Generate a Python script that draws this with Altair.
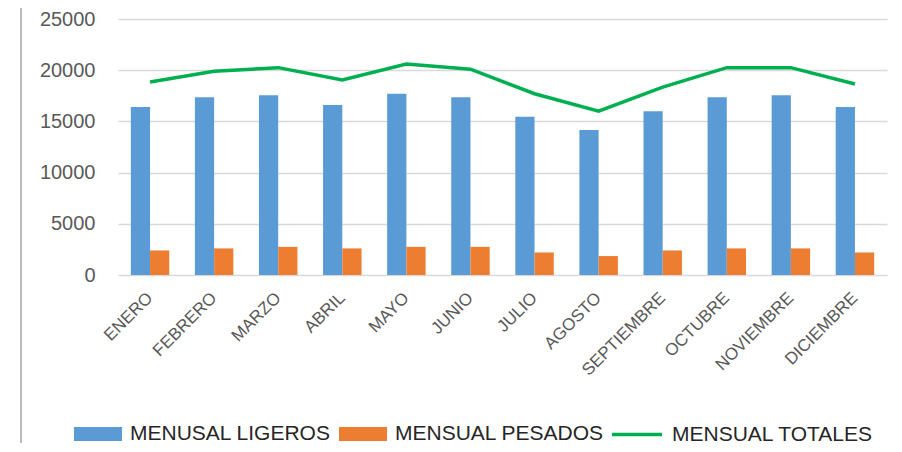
import altair as alt
import pandas as pd

meses = ["ENERO", "FEBRERO", "MARZO", "ABRIL", "MAYO", "JUNIO", "JULIO",
         "AGOSTO", "SEPTIEMBRE", "OCTUBRE", "NOVIEMBRE", "DICIEMBRE"]
ligeros = [16400, 17350, 17550, 16600, 17700, 17350, 15450, 14150, 16000, 17350, 17550, 16400]
pesados = [2400, 2600, 2750, 2600, 2750, 2750, 2200, 1850, 2400, 2600, 2600, 2200]
totales = [18850, 19900, 20250, 19050, 20600, 20100, 17700, 16000, 18350, 20250, 20250, 18650]
series_barras = ["MENUSAL LIGEROS", "MENSUAL PESADOS"]
serie_linea = "MENSUAL TOTALES"
y_ticks = [0, 5000, 10000, 15000, 20000, 25000]

FONT = "Liberation Sans"

bars_df = pd.DataFrame({
    "mes": meses * 2,
    "serie": [series_barras[0]] * 12 + [series_barras[1]] * 12,
    "valor": ligeros + pesados,
})
line_df = pd.DataFrame({"mes": meses, "serie": [serie_linea] * 12, "valor": totales})

x_enc = alt.X("mes:N", sort=meses, title=None,
              scale=alt.Scale(paddingInner=0.4, paddingOuter=0.2),
              axis=alt.Axis(labelAngle=-45, labelAlign="right", labelBaseline="middle",
                            labelPadding=20, labelFontSize=17, labelColor="#595959",
                            labelFont=FONT, ticks=False, domain=False, grid=False))

y_enc = alt.Y("valor:Q", title=None,
              scale=alt.Scale(domain=[0, 25000], nice=False),
              axis=alt.Axis(values=y_ticks, format="d", labelFontSize=20, labelColor="#595959",
                            labelFont=FONT, labelPadding=23, ticks=False, domain=False,
                            grid=True, gridColor="#d9d9d9", gridWidth=1.5))

# legend swatch: 48x14 rectangle drawn from a 24px symbol slot
bars = alt.Chart(bars_df).mark_bar().encode(
    x=x_enc,
    y=y_enc,
    xOffset=alt.XOffset("serie:N", sort=series_barras,
                        scale=alt.Scale(paddingInner=0, paddingOuter=0)),
    color=alt.Color("serie:N", sort=series_barras,
                    scale=alt.Scale(domain=series_barras, range=["#5b9bd5", "#ed7d31"]),
                    legend=alt.Legend(title=None, orient="none", legendX=-44, legendY=403,
                                      direction="horizontal", columns=2, padding=0,
                                      symbolType="M-1,-0.58L3,-0.58L3,0.58L-1,0.58Z",
                                      symbolSize=576, symbolStrokeWidth=0, symbolOpacity=1,
                                      labelFont=FONT, labelFontSize=21, labelColor="#262626",
                                      labelOffset=32, columnPadding=8, labelLimit=400)),
)

line = alt.Chart(line_df).mark_line(strokeWidth=3.5).encode(
    x=alt.X("mes:N", sort=meses),
    y=alt.Y("valor:Q"),
    stroke=alt.Stroke("serie:N",
                      scale=alt.Scale(domain=[serie_linea], range=["#00b050"]),
                      legend=alt.Legend(title=None, orient="none", legendX=492, legendY=401,
                                        padding=0, symbolType="M-1,0L3,0",
                                        symbolSize=625, symbolStrokeWidth=3.5,
                                        labelFont=FONT, labelFontSize=21, labelColor="#262626",
                                        labelOffset=33, labelLimit=400)),
)

frame = alt.Chart(pd.DataFrame({"a": [0]})).mark_rule(color="#a6a6a6", strokeWidth=1.5).encode(
    x=alt.value(-97), y=alt.value(-19), y2=alt.value(430)
)

chart = alt.layer(bars, line, frame).resolve_scale(color="independent").properties(
    width=769, height=256,
    padding={"left": 110, "top": 11, "right": 7, "bottom": 168},
    autosize=alt.AutoSizeParams(type="none"),
    background="white",
).configure_view(stroke=None)

chart.save("out.html", embed_options={"renderer": "svg", "actions": False})
